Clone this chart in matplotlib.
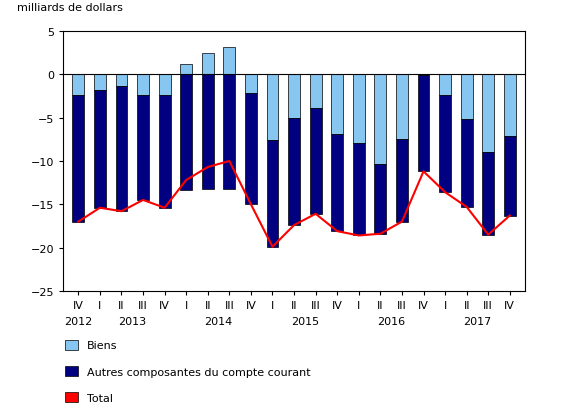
import matplotlib.pyplot as plt
from matplotlib.patches import Patch
import numpy as np

quarters = ["IV", "I", "II", "III", "IV", "I", "II", "III", "IV", "I", "II", "III", "IV",
            "I", "II", "III", "IV", "I", "II", "III", "IV"]
years = ["2012", "2013", "2014", "2015", "2016", "2017"]
year_pos = [0, 2.5, 6.5, 10.5, 14.5, 18.5]
biens = [-2.4, -1.8, -1.4, -2.4, -2.4, 1.2, 2.5, 3.2, -2.2, -7.6, -5.1, -3.9, -6.9,
         -7.9, -10.3, -7.5, -0.1, -2.4, -5.2, -9.0, -7.1]
autres = [-14.6, -13.6, -14.4, -12.1, -13.0, -13.4, -13.2, -13.2, -12.8, -12.3, -12.3, -12.2, -11.2,
          -10.7, -8.1, -9.5, -11.1, -11.2, -10.1, -9.5, -9.2]
total = [b + a for b, a in zip(biens, autres)]

light = "#87c6f0"
dark = "#000080"

fig = plt.figure(figsize=(5.8, 4.1), dpi=100)
ax = fig.add_axes([0.109, 0.288, 0.796, 0.634])
x = np.arange(len(quarters))
w = 0.55
for i in x:
    b, a = biens[i], autres[i]
    ax.bar(i, b, w, color=light, edgecolor="black", linewidth=0.5)
    if b >= 0:
        ax.bar(i, a, w, color=dark, edgecolor="black", linewidth=0.5)
    else:
        ax.bar(i, a, w, bottom=b, color=dark, edgecolor="black", linewidth=0.5)
ax.plot(x, total, color="red", linewidth=1.5)
ax.axhline(0, color="black", linewidth=0.8)

ax.set_ylim(-25, 5)
ax.set_xlim(-0.7, len(quarters) - 0.3)
ax.set_yticks(range(-25, 6, 5))
ax.set_xticks(x)
ax.set_xticklabels(quarters)
ax.tick_params(labelsize=8, length=3)
for yl, yp in zip(years, year_pos):
    ax.text(yp, -0.095, yl, transform=ax.get_xaxis_transform(), ha="center", va="top", fontsize=8)
ax.text(-0.1, 1.08, "milliards de dollars", transform=ax.transAxes, fontsize=8, ha="left")

handles = [Patch(facecolor=light, edgecolor="black", linewidth=0.5),
           Patch(facecolor=dark, edgecolor="black", linewidth=0.5),
           Patch(facecolor="red", edgecolor="black", linewidth=0.5)]
labels = ["Biens", "Autres composantes du compte courant", "Total"]
fig.legend(handles, labels, loc="lower left", bbox_to_anchor=(0.095, -0.01), frameon=False,
           fontsize=8, labelspacing=1.4, handlelength=1.2, handleheight=1.0)
fig.savefig("out.png")
